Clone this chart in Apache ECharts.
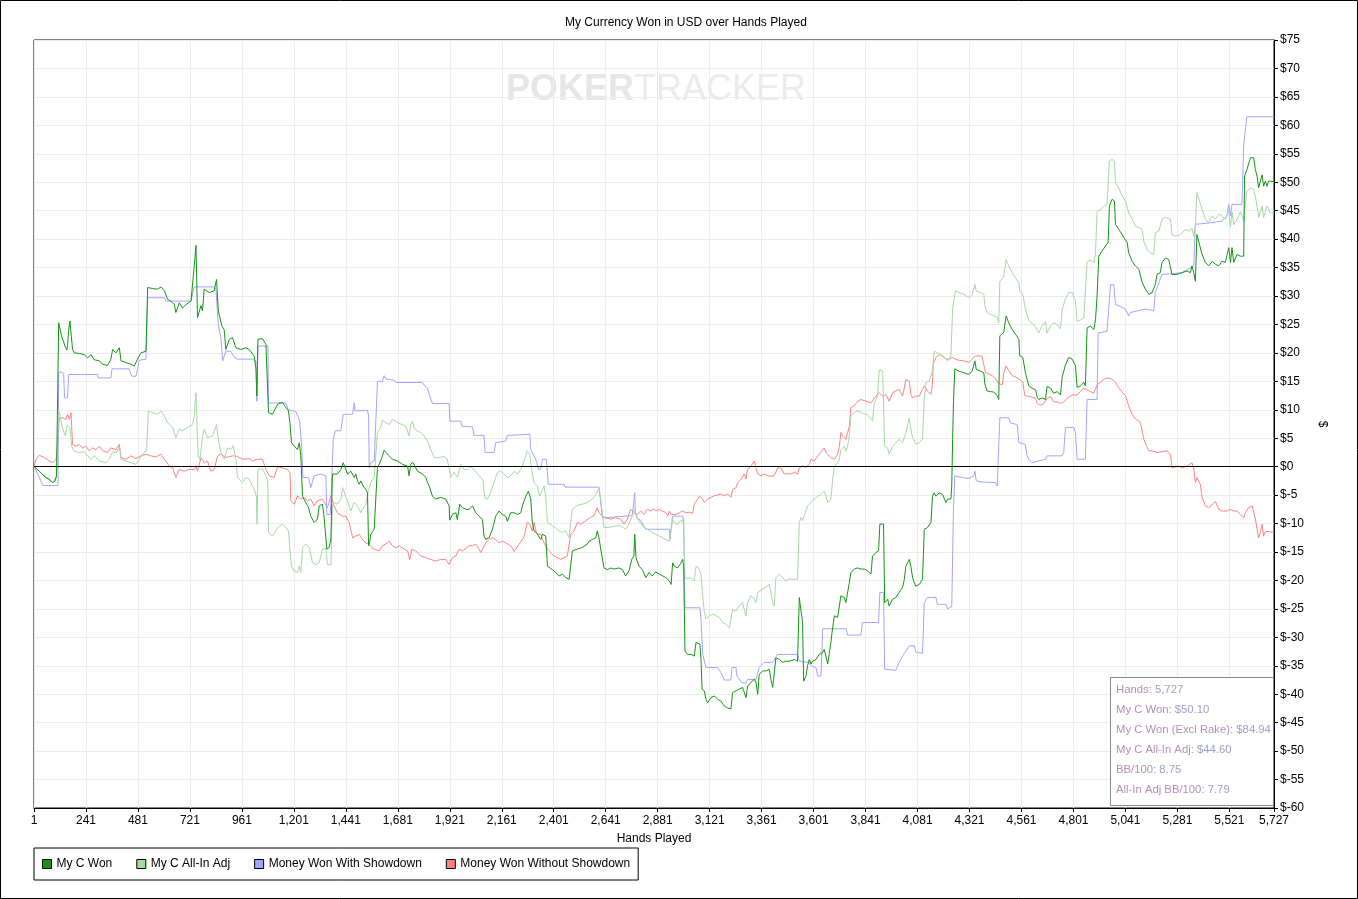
<!DOCTYPE html>
<html>
<head>
<meta charset="utf-8">
<title>My Currency Won in USD over Hands Played</title>
<script src="https://cdn.jsdelivr.net/npm/echarts@6/dist/echarts.min.js"></script>
<style>
  html, body { margin: 0; padding: 0; background: #fff; }
  #main { width: 1358px; height: 899px; }
</style>
</head>
<body>
<div id="main"></div>
<script>
// hand ticks and dollar ticks
var handTicks = { min: 1, max: 5727, step: 240 };
var dollarTicks = { min: -60, max: 75, step: 5 };

var seriesNames = ['My C Won', 'My C All-In Adj', 'Money Won With Showdown', 'Money Won Without Showdown'];

// [hand, dollars]
var wonPoints = [
  [1,0],[10,-0.2],[26,-0.8],[41,-1.4],[56,-1.9],[72,-2.2],[87,-2.8],[99,-2.5],[105,-1.6],[115,25.3],[122,25],[128,23],[136,22.7],[146,21],[153,20.5],[156,21.3],[161,24],[167,25.6],[175,25.3],[179,20.6],[187,20],[210,19.9],[233,19.7],[249,19.1],[264,19.7],[279,18.8],[303,18.6],[318,18],[341,17.8],[356,18.9],[364,20.6],[379,20],[395,20.9],[403,18.6],[426,18.3],[449,18],[464,17.7],[479,18.9],[495,20],[518,20.3],[526,31.5],[549,31.3],[572,31.2],[587,31.6],[603,30.9],[618,29.4],[633,29.1],[649,28.5],[656,27.1],[672,28.8],[687,27.9],[703,28.5],[726,29.1],[733,29.4],[741,35.3],[749,38.9],[756,26.2],[764,26.5],[772,28.3],[779,27.4],[787,31.2],[810,30.6],[833,30.9],[844,32.9],[852,27.4],[859,27.1],[869,24.7],[879,24.1],[887,20.6],[903,22.4],[918,22.7],[933,20.9],[956,20.6],[979,20.9],[995,20.6],[1018,19.4],[1026,17.1],[1030,12.4],[1035,22.4],[1056,22.5],[1072,21.5],[1081,21.2],[1084,9.5],[1102,9.2],[1126,11],[1149,11.3],[1164,10.4],[1176,9.8],[1183,7.7],[1190,4.2],[1203,3.6],[1218,3],[1226,4.2],[1233,1.9],[1241,-5.2],[1256,-6.3],[1269,-7.2],[1279,-8.7],[1295,-9.8],[1310,-9.2],[1318,-6.9],[1333,-6.6],[1341,-9],[1353,-14.5],[1364,-14.2],[1372,-12.7],[1379,-1.3],[1387,-1.6],[1402,-1.3],[1418,-0.5],
  [1429,0.7],[1438,0.4],[1449,-1.3],[1464,-0.8],[1472,-1],[1480,-1.9],[1487,-1.3],[1495,-2.5],[1503,-3.1],[1510,-2.5],[1521,-3.4],[1533,-4],[1541,-4.6],[1546,-13.9],[1552,-13.1],[1556,-11.9],[1564,-11.6],[1572,-11],[1579,-11.3],[1587,-0.1],[1595,0.4],[1602,0.7],[1610,1.9],[1618,2.9],[1626,2.5],[1641,1.9],[1656,1.3],[1679,1],[1703,0.4],[1726,0.1],[1733,-1.6],[1741,0.4],[1749,0.8],[1756,0.4],[1772,-0.8],[1795,-1.3],[1810,-1.9],[1818,-2.8],[1826,-3.4],[1841,-5.2],[1856,-5.7],[1879,-5.4],[1902,-5.7],[1918,-6.9],[1921,-9.4],[1933,-8.4],[1949,-8.1],[1956,-9.3],[1967,-6.6],[1979,-7.2],[1995,-7.5],[2010,-7.5],[2026,-6.9],[2041,-8.1],[2056,-8.7],[2072,-9.3],[2079,-12.2],[2087,-12.8],[2102,-12.5],[2118,-11],[2133,-8.7],[2148,-7.8],[2164,-8.4],[2179,-8.7],[2187,-9.6],[2202,-8.1],[2218,-8.1],[2233,-8.4],[2249,-8.1],[2256,-6.9],[2272,-5.2],[2284,-4.3],[2295,-5.7],[2302,-9.8],[2310,-11.3],[2321,-11.6],[2331,-12.2],[2341,-12.8],[2349,-11.9],[2356,-11.6],[2364,-12.2],[2372,-17.5],[2395,-18.1],[2410,-18.6],[2426,-19.2],[2441,-18.9],[2456,-19.5],[2472,-19.8],[2479,-17.5],[2487,-14.8],[2510,-14.5],[2533,-14.2],[2556,-13.6],[2564,-13.1],[2579,-12.8],[2595,-12.5],[2602,-11.3],[2610,-12.5],[2618,-14.5],[2633,-17.8],[2649,-18.1],[2664,-17.8],[2679,-18],[2702,-17.8],[2718,-18.1],[2733,-19.2],[2749,-18.3],[2761,-16.3],[2771,-15.7],[2775,-11.9],[2781,-16],[2795,-17.5],[2810,-18.1],[2826,-19.5],[2841,-18.6],[2856,-19.2],[2872,-18.5],
  [2889,-18.9],[2904,-19.2],[2919,-19.5],[2935,-20.1],[2943,-20.7],[2950,-16.9],[2958,-17.5],[2966,-17.2],[2973,-17.8],[2981,-17.5],[2989,-16.9],[2996,-16.3],[3001,-17.5],[3007,-32.4],[3019,-33],[3035,-33],[3050,-33.3],[3058,-30.9],[3066,-30.6],[3076,-31.2],[3081,-33.9],[3086,-39.1],[3096,-39.4],[3104,-40.9],[3112,-41.5],[3119,-41.2],[3127,-40.6],[3143,-40.3],[3158,-40.9],[3173,-41.2],[3189,-42.1],[3204,-42.4],[3219,-42.6],[3227,-39.7],[3243,-39.4],[3258,-39.1],[3273,-38.8],[3289,-40.6],[3296,-38.6],[3312,-37.9],[3327,-37.4],[3335,-37.9],[3343,-40],[3350,-36.5],[3366,-35.9],[3381,-35.9],[3396,-35.6],[3404,-37.4],[3412,-38.8],[3419,-38.5],[3427,-33.6],[3443,-33.9],[3458,-34.4],[3473,-34.2],[3489,-34.2],[3512,-33.9],[3527,-34.2],[3535,-23],[3543,-23.3],[3550,-27.4],[3555,-37.7],[3566,-36.8],[3573,-35],[3581,-33.9],[3589,-34.7],[3596,-34.2],[3612,-33.9],[3627,-33],[3643,-32.7],[3650,-32.1],[3666,-34.7],[3673,-34.4],[3681,-30.9],[3686,-29.2],[3697,-26.2],[3712,-26.5],[3720,-26.2],[3727,-22.7],[3735,-22.4],[3743,-23],[3750,-23.9],[3758,-23.9],[3766,-20.4],[3773,-18.6],[3789,-18],[3804,-17.8],[3820,-18],[3835,-18],[3850,-18.3],[3866,-18.9],[3873,-15.7],[3889,-15.1],[3901,-14.8],[3907,-10.1],[3916,-9.8],[3924,-10.1],[3929,-23.9],[3943,-23.3],[3950,-24.5],[3966,-23.3],[3981,-23],[3996,-22.1],[4012,-21.2],[4020,-19.8],[4027,-17.5],[4035,-16.9],[4043,-16.3],[4050,-17.5],[4058,-19.5],[4066,-20.4],[4073,-21],[4089,-20.7],[4104,-19.8],[4112,-11],[4127,-10.7],[4143,-9.8],[4150,-5.2],[4158,-4.6],[4166,-5.2],[4181,-4.6],[4197,-4.9],[4212,-6.3],[4220,-5.7],[4227,-5.4],[4235,-5.7],[4239,-3.4],[4243,4.8],[4247,11.5],[4253,17.2],
  [4271,16.8],[4295,16.5],[4318,16.2],[4333,16.8],[4346,18.6],[4352,17.1],[4372,16.8],[4387,16.5],[4392,14.5],[4402,13.3],[4418,13.2],[4433,13.1],[4449,12.5],[4456,11.8],[4461,23],[4479,23.6],[4490,26.5],[4502,25.3],[4518,24.1],[4533,23.3],[4549,22.4],[4553,19.5],[4567,19.2],[4579,16.5],[4595,14.2],[4610,13.8],[4626,13.5],[4633,12.3],[4641,11.8],[4656,12.1],[4672,11.8],[4679,14.1],[4695,13.8],[4710,12.9],[4726,13.2],[4741,12.6],[4749,15.8],[4764,17.9],[4779,19.2],[4795,18.9],[4810,17.8],[4818,13.9],[4833,14.2],[4849,14.8],[4856,14.2],[4864,24.4],[4879,24.7],[4895,24.1],[4903,25.9],[4910,30],[4918,37],[4933,37.9],[4949,38.8],[4961,39.4],[4967,45.8],[4979,47],[4990,46.7],[4995,42.6],[5010,41.7],[5026,40.8],[5033,40.3],[5049,39.4],[5056,37.6],[5072,36.1],[5087,35.3],[5103,34.7],[5110,34.4],[5118,32.4],[5133,31.2],[5149,30.3],[5164,30.6],[5179,32],[5187,33.8],[5202,34.1],[5210,35.9],[5226,36.7],[5241,36.4],[5256,33.8],[5279,33.8],[5302,34.1],[5325,34.4],[5341,34.1],[5348,35.3],[5356,34.1],[5364,32.6],[5371,40.8],[5379,40.5],[5395,37.3],[5410,35.9],[5425,35.3],[5441,36.1],[5456,35.6],[5472,35.3],[5487,36.1],[5502,35.9],[5518,38.5],[5526,35.9],[5533,38.5],[5541,35.9],[5556,37.3],[5572,37],[5587,37],[5591,51.1],[5602,52.2],[5618,54.3],[5633,54.3],[5641,52.2],[5649,51.1],[5656,49],[5664,49.3],[5672,51.3],[5679,49.3],[5687,50.2],[5695,49.3],[5702,50.2],[5727,50.1]
];

var allInPoints = [
  [1,0],[41,-1.4],[87,-2.8],[105,-1.6],[115,10],[118,9.7],[122,8.8],[128,7.6],[136,6.4],[146,5.4],[153,7.2],[161,7.4],[167,6.9],[175,3.6],[187,2.7],[210,2.5],[233,2.6],[249,1.9],[264,1.3],[279,1.9],[303,1],[333,0.7],[349,1.3],[364,2.6],[383,2.5],[395,3.6],[403,1.3],[426,1],[449,0.7],[472,0.4],[487,1.3],[510,2.5],[521,2.8],[529,9.8],[549,9.5],[572,9.2],[587,9.8],[603,8.9],[618,7.7],[641,6.9],[656,5.1],[672,6.6],[687,6.3],[710,6.9],[733,7.4],[741,8.9],[749,13],[756,4.8],[759,1.9],[767,1.3],[779,5.1],[787,6.6],[802,5.1],[825,5.4],[844,7.4],[852,4.8],[859,4.5],[864,2.5],[879,1.3],[895,3.3],[910,3],[921,3.7],[933,1.3],[941,-1.9],[964,-2.8],[979,-1.9],[995,-2.2],[1018,-4],[1028,-5.2],[1031,-10.1],[1035,-0.5],[1056,-0.4],[1075,-1.9],[1081,-2.8],[1084,-11.6],[1102,-12.2],[1126,-10.7],[1149,-10.1],[1164,-10.7],[1176,-11.3],[1183,-14.5],[1190,-17.5],[1203,-18.4],[1218,-18.6],[1226,-17.5],[1233,-18.6],[1241,-14.2],[1256,-13.6],[1272,-14.2],[1287,-16.9],[1302,-17.2],[1318,-16.9],[1333,-14.5],[1349,-14.4],[1356,-17.2],[1372,-17.3],[1379,-6.9],[1387,-6.3],[1402,-6.6],[1418,-5.7],
  [1426,-3.7],[1433,-4],[1441,-5.2],[1456,-6.9],[1464,-7.8],[1472,-6.9],[1480,-6.3],[1487,-6],[1495,-6.9],[1503,-7.5],[1510,-8.1],[1518,-7.5],[1533,-6.6],[1541,-5.2],[1546,-4],[1552,-3.4],[1556,-2.8],[1564,-2.5],[1572,-1.9],[1579,-1.6],[1587,6],[1595,6],[1602,6.9],[1610,8.2],[1618,8.2],[1626,7.7],[1641,7.4],[1656,8.3],[1672,8],[1687,7.6],[1703,7.4],[1718,7.1],[1726,6.8],[1733,5.4],[1741,7.5],[1749,8],[1756,6.8],[1772,6.2],[1787,6],[1803,5.4],[1818,4.5],[1833,3],[1849,1.6],[1872,1.6],[1895,1.8],[1910,1.3],[1918,-0.5],[1926,-1.9],[1941,-1],[1956,-1.9],[1972,0.4],[1987,-0.5],[2002,-0.5],[2018,0],[2033,-0.5],[2049,-1.3],[2064,-1.9],[2075,-2.5],[2082,-5.4],[2095,-5.7],[2110,-4.5],[2125,-2.8],[2141,-1],[2156,-0.8],[2172,-1.3],[2187,-1.9],[2202,-1.6],[2218,-0.8],[2233,-1.3],[2249,-0.5],[2264,1],[2279,2.8],[2290,2.2],[2299,-0.5],[2310,-2.8],[2326,-3.4],[2336,-5.2],[2349,-4],[2356,-3.4],[2364,-5.2],[2372,-9.8],[2395,-10.4],[2426,-11.3],[2441,-11.6],[2456,-11.3],[2472,-12.5],[2479,-9.8],[2487,-7.5],[2510,-6.8],[2533,-6.6],[2556,-6.3],[2579,-5.7],[2602,-4.5],[2610,-3.7],[2618,-5.7],[2633,-10.7],[2656,-10.7],[2687,-10.4],[2710,-10.4],[2733,-11],[2749,-10.1],[2764,-8.6],[2775,-7.5],[2787,-9.1],[2802,-9.9],[2818,-10.7],[2833,-11],
  [2843,-11.3],[2858,-11.6],[2873,-11.9],[2889,-12.2],[2904,-12.5],[2919,-12.8],[2935,-13.1],[2943,-13.4],[2950,-9.3],[2958,-9.7],[2966,-10.1],[2973,-10.4],[2981,-9.8],[2996,-9.3],[3001,-10.4],[3007,-19.5],[3019,-19.7],[3035,-19.5],[3050,-20.1],[3058,-17.5],[3070,-17.8],[3081,-18.9],[3089,-22.7],[3096,-25.4],[3104,-26.8],[3112,-27.1],[3119,-26.2],[3135,-25.9],[3150,-26.2],[3166,-26.5],[3181,-27.4],[3196,-27.7],[3212,-28.3],[3219,-26.8],[3227,-25.1],[3243,-25.4],[3250,-24.8],[3258,-24.5],[3273,-23.9],[3281,-25.1],[3289,-26.2],[3296,-23.9],[3312,-22.7],[3327,-23.3],[3335,-23.9],[3343,-22.1],[3350,-22.1],[3366,-21.5],[3381,-21.2],[3396,-20.7],[3404,-22.1],[3412,-23.9],[3419,-24.5],[3427,-19.5],[3443,-18.9],[3458,-19.5],[3473,-20.1],[3489,-19.7],[3512,-19.8],[3527,-19.8],[3535,-9.8],[3543,-8.9],[3550,-9.5],[3558,-8.6],[3573,-6.9],[3589,-6.3],[3604,-5.7],[3620,-5.2],[3635,-4.9],[3650,-4.3],[3658,-5.2],[3666,-6.3],[3673,-6.6],[3681,-5.7],[3689,-2.2],[3697,0.1],[3712,0.7],[3720,1.3],[3727,3],[3735,3.2],[3743,3.6],[3750,2.7],[3758,3.6],[3766,5.4],[3773,8.9],[3789,9.5],[3804,9.8],[3827,9.4],[3850,9.1],[3873,8],[3881,11.2],[3896,12.3],[3904,17],[3920,16.8],[3924,16.5],[3929,3.6],[3943,3.3],[3950,2.2],[3966,3.6],[3981,4.2],[3996,4.8],[4012,4.2],[4027,6],[4043,8.6],[4050,6.6],[4058,5.1],[4073,4],[4089,4.2],[4104,4.8],[4112,11.8],[4120,14.8],[4135,15],[4150,17],[4158,20.3],[4173,20],[4189,19.7],[4204,19.1],[4220,18.6],[4235,19.5],
  [4243,27.7],[4256,30.9],[4271,30.6],[4295,30.3],[4318,29.7],[4333,30.3],[4346,32],[4352,30.9],[4372,30.6],[4387,30.3],[4392,28.3],[4402,27.1],[4418,26.8],[4433,26.5],[4449,26.2],[4456,25.3],[4461,32.6],[4479,33.4],[4490,36.4],[4502,35.3],[4518,34.1],[4533,33.2],[4549,32.3],[4553,30.9],[4567,30.3],[4579,27.7],[4595,25.7],[4610,25.2],[4626,24.6],[4633,24],[4641,23.5],[4656,24.7],[4672,25.5],[4679,23.5],[4695,24.7],[4710,25.3],[4726,25],[4741,24.2],[4749,27.7],[4764,29.5],[4779,30.6],[4795,30.6],[4810,29.2],[4818,25.5],[4833,25.8],[4849,26.1],[4856,26.1],[4864,36],[4879,36.3],[4895,35.9],[4903,37.6],[4910,44.9],[4926,45.2],[4941,45.8],[4956,46.1],[4967,53.7],[4979,54],[4990,53.7],[4995,49.9],[5010,49],[5026,47.6],[5041,46.7],[5056,44.6],[5072,43.5],[5087,42.3],[5103,42],[5118,41.7],[5126,39.6],[5141,38.2],[5156,37.6],[5172,37.3],[5179,41.1],[5195,41.4],[5210,43.5],[5226,43.8],[5249,43.5],[5256,40.8],[5272,40.5],[5295,40.8],[5318,41.7],[5333,41.4],[5348,41.9],[5356,40.5],[5364,42.3],[5371,48.2],[5379,47.9],[5395,45.2],[5410,43.5],[5425,42.9],[5441,44.1],[5456,43.5],[5472,44.4],[5487,44.1],[5502,43.5],[5518,45],[5526,42.2],[5533,44.8],[5541,42.5],[5556,43.5],[5572,44.8],[5587,43.2],[5591,45.2],[5602,48.4],[5618,49],[5633,48.7],[5641,47.5],[5649,45.8],[5656,43.8],[5672,45.8],[5679,43.8],[5695,45.8],[5710,44.6],[5727,44.6]
];

var showdownPoints = [
  [1,0],[26,-1.9],[41,-3.3],[112,-3.3],[115,16.6],[133,16.6],[138,16.2],[142,12.1],[156,12.1],[161,16.2],[295,16.2],[296,15.6],[356,15.6],[361,17.2],[441,17.2],[446,16.5],[453,15.9],[472,15.9],[479,17.1],[487,18.7],[518,18.9],[526,29.7],[603,29.7],[610,29.1],[726,29.1],[741,31.6],[833,31.6],[841,31.2],[852,25],[864,22.7],[872,18.6],[887,20.3],[910,20.3],[926,19.2],[941,18.9],[1010,18.9],[1026,18.6],[1030,11.5],[1035,21.2],[1081,21.2],[1084,11.2],[1164,11.2],[1176,10],[1210,9.7],[1228,8],[1236,4.2],[1243,-1.9],[1269,-1.9],[1279,-3.7],[1295,-1.6],[1326,-1.3],[1349,-1.6],[1353,-8.4],[1369,-8.4],[1372,-6.3],[1383,4.8],[1392,6.3],[1418,6.3],
  [1429,9.2],[1472,9.2],[1480,11.2],[1484,9.8],[1541,9.9],[1546,8.9],[1549,-0.2],[1556,0.7],[1572,1],[1587,15],[1610,15],[1618,16],[1626,15.4],[1664,15.2],[1672,14.8],[1795,14.8],[1803,14.3],[1818,13.8],[1826,12.7],[1841,11.1],[1918,11.1],[1921,8],[1972,8],[1977,7.1],[2026,7],[2033,5.5],[2079,5.5],[2084,2.5],[2125,2.5],[2133,4.2],[2179,4.5],[2187,5.5],[2291,5.7],[2295,3],[2318,1.3],[2331,-0.5],[2341,-0.4],[2349,1.3],[2367,1.3],[2376,-3.1],[2449,-3.1],[2453,-3.6],[2610,-3.6],[2626,-9],[2764,-8.6],[2771,-8.6],[2775,-4.6],[2778,-8.3],[2787,-9.1],[2802,-9.4],[2810,-9.7],[2826,-11],
  [2935,-11],[2938,-12.7],[2946,-12.7],[2950,-8.7],[2996,-8.7],[3001,-9.3],[3007,-24.8],[3076,-24.8],[3081,-26.8],[3089,-33],[3104,-35.3],[3158,-35.3],[3166,-35.6],[3173,-36.2],[3189,-37.5],[3219,-37.5],[3224,-35.3],[3243,-35.3],[3247,-36.8],[3270,-38],[3289,-38],[3296,-37.4],[3335,-37.4],[3350,-35.3],[3373,-34.4],[3412,-34.4],[3424,-33.6],[3435,-33],[3527,-33],[3535,-34.1],[3550,-34.3],[3581,-34.4],[3589,-35],[3612,-35.3],[3620,-36.8],[3635,-36.8],[3643,-28.5],[3751,-28.5],[3758,-29.6],[3819,-29.6],[3827,-27.4],[3901,-27.4],[3907,-22.1],[3924,-22.1],[3929,-35.6],[3981,-35.8],[3996,-34.4],[4012,-33.3],[4027,-32.4],[4043,-31.5],[4066,-31.5],[4073,-32.6],[4104,-32.8],[4112,-23.9],[4127,-23],[4166,-23],[4173,-24.2],[4212,-24.2],[4220,-25],[4239,-24.6],[4247,-7.2],[4253,-1.6],
  [4287,-1.9],[4318,-2.1],[4341,-1.6],[4346,-0.8],[4352,-2.5],[4379,-2.7],[4441,-2.8],[4449,-3.4],[4456,-3.1],[4461,8.6],[4502,8.6],[4510,7.7],[4541,7.4],[4549,4.2],[4579,3.9],[4587,1.9],[4595,1.3],[4610,0.7],[4618,1],[4672,1.3],[4679,1.9],[4749,1.9],[4756,2.5],[4764,6.9],[4803,6.9],[4810,6],[4818,1.3],[4856,1.3],[4864,11.8],[4910,11.8],[4915,23.5],[4956,23.8],[4964,24.1],[4972,32],[4987,32],[4995,28.5],[5018,28.2],[5041,27.7],[5056,26.5],[5064,27.1],[5133,27.7],[5141,27.4],[5172,27.4],[5179,30.6],[5210,33.8],[5256,33.9],[5302,34.1],[5356,35.3],[5364,42.6],[5441,42.9],[5487,43.2],[5510,44.1],[5518,46.1],[5526,44.1],[5533,46.1],[5579,46.1],[5587,56.4],[5595,59.3],[5602,61.5],[5727,61.5]
];

var noShowdownPoints = [
  [1,0],[10,1.3],[26,2],[49,1.6],[72,1],[87,0.7],[103,1.3],[110,3.6],[118,8.6],[133,8.6],[149,8.3],[156,9.2],[164,8.3],[172,9.5],[179,3.9],[195,3.6],[210,3.9],[226,3.3],[241,3.6],[256,2.8],[272,3.3],[287,3],[303,3.6],[318,2.8],[341,2.5],[356,3.3],[379,3],[395,3.9],[403,1.6],[426,1.3],[449,1.9],[472,1.4],[495,1.9],[518,2.2],[541,1.9],[564,1.7],[587,2.2],[603,1.3],[626,0.1],[641,-0.2],[656,-1.9],[672,-0.5],[695,-0.8],[718,-0.5],[741,-0.5],[749,0.1],[756,-0.8],[772,1.6],[787,0.7],[802,1],[818,-0.8],[833,-0.5],[849,1.9],[864,2.2],[887,1.6],[918,1.9],[941,1.8],[964,1.3],[995,1.4],[1010,1],[1033,1.3],[1056,1.3],[1072,-0.5],[1087,-1.6],[1110,-1.9],[1126,0],[1149,-0.2],[1172,-0.5],[1183,-1.1],[1187,-6],[1203,-6.6],[1218,-5.1],[1233,-5.7],[1249,-5.4],[1264,-6],[1279,-5.7],[1295,-6.9],[1310,-6],[1333,-5.7],[1356,-7.2],[1372,-5.1],[1387,-6.9],[1402,-8.1],[1425,-8.7],
  [1441,-8.7],[1456,-9.8],[1464,-11],[1472,-12.5],[1487,-12.2],[1503,-11.9],[1518,-12.8],[1533,-13.4],[1549,-13.7],[1564,-14.3],[1579,-14.6],[1595,-14.8],[1610,-13.9],[1626,-13.6],[1641,-13.1],[1656,-13.9],[1672,-14.3],[1687,-13.9],[1710,-14.5],[1726,-14.8],[1736,-16.3],[1746,-14.5],[1764,-14.8],[1787,-15.7],[1810,-16],[1833,-16.3],[1856,-16.6],[1879,-16.3],[1902,-16.3],[1918,-17.2],[1933,-16],[1949,-15.7],[1964,-14.5],[1979,-14.8],[1995,-14.4],[2010,-13.9],[2026,-13.9],[2041,-13.6],[2056,-14.5],[2064,-15.1],[2072,-14.8],[2087,-13.4],[2102,-12.8],[2118,-12.5],[2133,-12.8],[2148,-13.4],[2164,-13.1],[2179,-13.4],[2195,-13.7],[2210,-14.3],[2218,-14.9],[2233,-14.1],[2249,-13.2],[2264,-12.3],[2279,-9.8],[2290,-10.1],[2302,-11.3],[2310,-9.8],[2321,-11.6],[2331,-11.9],[2341,-11.9],[2356,-13.4],[2372,-14.5],[2387,-15.1],[2402,-15.7],[2418,-16],[2433,-16.3],[2449,-16],[2464,-15.7],[2472,-16],[2479,-11.9],[2495,-11.3],[2510,-9.8],[2526,-10.1],[2549,-9.5],[2572,-8.9],[2587,-8.6],[2602,-7.2],[2610,-8.1],[2626,-8.7],[2641,-9],[2664,-9.2],[2687,-9],[2710,-9.2],[2726,-10.1],[2741,-9.2],[2756,-7.5],[2772,-8.1],[2787,-8.4],[2802,-7.8],[2818,-8.4],[2833,-7.5],[2849,-7.8],[2864,-7.4],
  [2873,-7.8],[2889,-7.5],[2904,-7.8],[2919,-8.1],[2927,-8.7],[2935,-7.8],[2943,-8.4],[2950,-8.7],[2966,-8.4],[2981,-8.1],[2996,-7.8],[3012,-8.1],[3027,-8],[3043,-8.2],[3050,-6.6],[3066,-5.7],[3073,-5.2],[3089,-5.7],[3096,-6.3],[3112,-5.7],[3127,-5.4],[3143,-5.1],[3158,-5],[3173,-4.8],[3189,-5.1],[3204,-4.8],[3219,-5.4],[3227,-4],[3243,-3.7],[3250,-2.8],[3266,-2.2],[3281,-1.3],[3289,-2.2],[3296,-0.5],[3312,0.1],[3320,-0.2],[3327,1],[3335,-0.2],[3343,-1.3],[3358,-1.6],[3373,-1.3],[3389,-1.6],[3404,-1.7],[3419,-1.6],[3435,-0.2],[3450,-0.2],[3466,-1.3],[3481,-1.2],[3496,-1.3],[3512,-1],[3527,-1.3],[3535,-0.2],[3550,0.1],[3566,-0.1],[3581,0.4],[3589,1.3],[3604,1],[3620,1.9],[3635,2.5],[3650,3.3],[3658,2.5],[3666,2.2],[3681,1.6],[3697,1.3],[3712,2.2],[3720,3.6],[3727,6],[3735,5.4],[3743,5.1],[3750,4.8],[3758,4.5],[3766,7.1],[3773,10.4],[3789,10.7],[3804,11.5],[3820,11.8],[3843,11.5],[3866,11.2],[3889,12.4],[3904,13],[3920,12.4],[3935,12.7],[3950,11.5],[3958,11.2],[3966,13],[3981,13.3],[3996,13.6],[4012,12.4],[4027,15.3],[4043,15],[4050,12.7],[4058,12.1],[4073,12.4],[4089,12.4],[4104,13.6],[4112,14.2],[4127,13.3],[4135,13.6],[4143,12.7],[4150,14.5],[4153,18],[4166,19.2],[4181,19.7],[4197,19.5],[4212,18.9],
  [4226,18.9],[4241,19.2],[4256,18.9],[4272,18.7],[4295,18.6],[4318,18.3],[4333,18.9],[4346,19.4],[4364,19.5],[4379,19.4],[4387,19.2],[4395,16.5],[4410,16.3],[4426,16],[4441,15.5],[4456,14.6],[4472,14.4],[4479,16.4],[4490,17.7],[4502,16.9],[4518,16],[4533,15.8],[4556,15.2],[4567,14.9],[4576,12.5],[4587,12.4],[4602,12.3],[4626,12],[4633,11.1],[4649,10.8],[4664,11.1],[4679,12],[4695,12.3],[4710,11.4],[4726,11.4],[4741,11.1],[4756,11.4],[4772,12],[4795,12.6],[4818,12.6],[4833,13.2],[4849,13.8],[4864,13.5],[4879,13.2],[4895,12.9],[4910,14.4],[4926,14.8],[4941,15.4],[4956,15.6],[4979,15.4],[4995,14.8],[5010,13.9],[5026,13.1],[5041,12.5],[5056,10.7],[5072,9.2],[5087,8.4],[5110,7.8],[5118,6.3],[5126,4.8],[5141,3.4],[5149,2.8],[5164,2.8],[5187,2.5],[5210,2.6],[5233,2.8],[5249,2.2],[5256,-0.2],[5287,0.1],[5302,-0.2],[5325,0.1],[5348,0.7],[5356,-0.2],[5364,-2.8],[5371,-1.9],[5379,-1.6],[5387,-3.1],[5395,-5.4],[5410,-6.9],[5425,-7.2],[5441,-6.7],[5456,-6.1],[5472,-7.5],[5487,-7.8],[5510,-7.8],[5526,-7.5],[5541,-7.8],[5556,-7.8],[5572,-8.4],[5587,-9],[5595,-8.1],[5610,-7.2],[5626,-6.9],[5633,-7.2],[5641,-9.2],[5649,-11],[5656,-12.5],[5664,-11.6],[5672,-10.1],[5679,-12.2],[5687,-11.4],[5702,-11.4],[5727,-11.6]
];

// summary box lines
var infoLines = [
  ['Hands: ', '5,727'],
  ['My C Won: ', '$50.10'],
  ['My C Won (Excl Rake): ', '$84.94'],
  ['My C All-In Adj: ', '$44.60'],
  ['BB/100: ', '8.75'],
  ['All-In Adj BB/100: ', '7.79']
];

var colors = ['#139613', '#a6d9a6', '#a4a4ff', '#ff8282'];
var FONT = '"Liberation Sans", Arial, sans-serif';

var myChart = echarts.init(document.getElementById('main'), null, { renderer: 'canvas' });

function lineSeries(name, data, color, z) {
  return {
    name: name,
    type: 'line',
    data: data,
    z: z,
    showSymbol: false,
    symbol: 'none',
    silent: true,
    animation: false,
    color: color,
    lineStyle: { width: 1, color: color },
    emphasis: { disabled: true }
  };
}

var wonSeries = lineSeries(seriesNames[0], wonPoints, colors[0], 5);
// black zero line
wonSeries.markLine = {
  silent: true,
  symbol: 'none',
  label: { show: false },
  lineStyle: { color: '#000', width: 1, type: 'solid' },
  data: [{ yAxis: 0 }]
};

var infoGraphics = [{
  type: 'rect',
  shape: { x: 1110.5, y: 677.5, width: 163, height: 128 },
  style: { fill: '#fff', stroke: '#8a8a8a', lineWidth: 1 },
  z: 100
}];
infoLines.forEach(function (l, i) {
  infoGraphics.push({
    type: 'text',
    x: 1116,
    y: 690 + i * 19.9,
    z: 101,
    style: {
      text: '{k|' + l[0] + '}{v|' + l[1] + '}',
      verticalAlign: 'middle',
      rich: {
        k: { fontFamily: FONT, fontSize: 11.3, fill: '#b98cb8' },
        v: { fontFamily: FONT, fontSize: 11.3, fill: '#9e9ecb' }
      }
    }
  });
});

myChart.setOption({
  animation: false,
  backgroundColor: '#fff',
  title: {
    text: 'My Currency Won in USD over Hands Played',
    left: 565,
    top: 17,
    padding: 0,
    textStyle: { fontFamily: FONT, fontSize: 12, fontWeight: 'normal', color: '#000' }
  },
  legend: {
    data: seriesNames,
    left: 34,
    top: 848,
    orient: 'horizontal',
    padding: [10, 8, 10, 8],
    itemGap: 24,
    itemWidth: 9,
    itemHeight: 9,
    icon: 'rect',
    selectedMode: false,
    borderColor: '#000',
    borderWidth: 1,
    itemStyle: { borderColor: '#000', borderWidth: 1 },
    textStyle: { fontFamily: FONT, fontSize: 12, color: '#000' }
  },
  grid: {
    left: 34,
    right: 84,
    top: 40,
    bottom: 91,
    show: true,
    borderColor: '#000',
    borderWidth: 1,
    backgroundColor: 'transparent',
    outerBoundsMode: 'none'
  },
  xAxis: {
    type: 'value',
    min: handTicks.min,
    max: handTicks.max,
    interval: handTicks.step,
    name: 'Hands Played',
    nameLocation: 'middle',
    nameGap: 25,
    nameTextStyle: { fontFamily: FONT, fontSize: 12, color: '#000' },
    axisLine: { show: true, onZero: false, lineStyle: { color: '#000', width: 1 } },
    axisTick: { show: true, length: 4, lineStyle: { color: '#000' } },
    axisLabel: {
      fontFamily: FONT, fontSize: 12, color: '#000', margin: 7,
      showMinLabel: true, showMaxLabel: true, hideOverlap: false,
      formatter: function (v) { return Math.round(v).toLocaleString('en-US'); }
    },
    splitLine: { show: true, lineStyle: { color: '#ececec', width: 1 } }
  },
  yAxis: {
    type: 'value',
    position: 'right',
    min: dollarTicks.min,
    max: dollarTicks.max,
    interval: dollarTicks.step,
    name: '$',
    nameLocation: 'middle',
    nameGap: 42,
    nameRotate: -90,
    nameTextStyle: { fontFamily: FONT, fontSize: 12, color: '#000' },
    axisLine: { show: true, lineStyle: { color: '#000', width: 1 } },
    axisTick: { show: true, length: 4, lineStyle: { color: '#000' } },
    axisLabel: {
      fontFamily: FONT, fontSize: 12, color: '#000', margin: 6,
      padding: [2, 0, 0, 0],
      formatter: function (v) { return '$' + v; }
    },
    splitLine: { show: true, lineStyle: { color: '#ececec', width: 1 } }
  },
  graphic: [
    // outer frame
    {
      type: 'rect',
      shape: { x: 0.5, y: 0.5, width: 1357, height: 898 },
      style: { fill: 'none', stroke: '#000', lineWidth: 1 },
      silent: true
    },
    // watermark
    {
      type: 'text',
      x: 656,
      y: 90,
      z: -1,
      silent: true,
      style: {
        text: '{b|POKER}{n|TRACKER}',
        align: 'center',
        verticalAlign: 'middle',
        rich: {
          b: { fontFamily: FONT, fontSize: 36, fontWeight: 'bold', fill: '#e6e6e6' },
          n: { fontFamily: FONT, fontSize: 36, fill: '#ebebeb' }
        }
      }
    }
  ].concat(infoGraphics),
  series: [
    lineSeries(seriesNames[3], noShowdownPoints, colors[3], 2),
    lineSeries(seriesNames[2], showdownPoints, colors[2], 3),
    lineSeries(seriesNames[1], allInPoints, colors[1], 4),
    wonSeries
  ]
});
</script>
</body>
</html>
